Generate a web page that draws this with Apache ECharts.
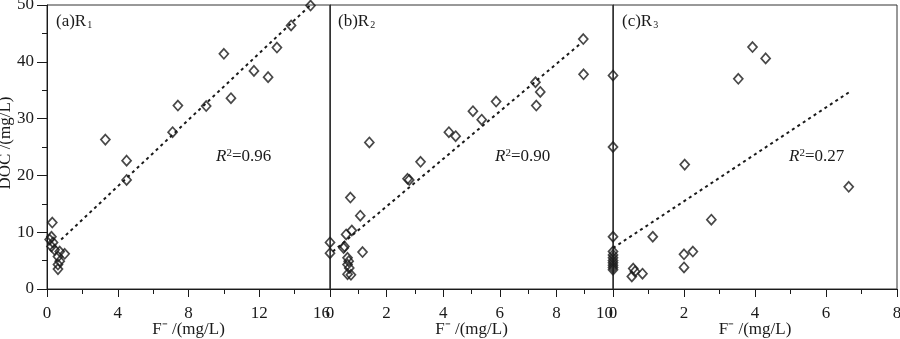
<!DOCTYPE html>
<html>
<head>
<meta charset="utf-8">
<script src="https://cdn.jsdelivr.net/npm/echarts@6/dist/echarts.min.js"></script>
<style>
  html, body { margin: 0; padding: 0; background: #fff; }
  #chart { width: 900px; height: 339px; }
</style>
</head>
<body>
<div id="chart"></div>
<script>
// DOC vs F- for the three groups R1, R2, R3
const r1X = [14.9, 13.8, 13.0, 11.7, 12.5, 10.0, 10.4, 9.0, 7.4, 7.1, 3.3, 4.5, 4.5, 0.3, 0.25, 0.15, 0.34, 0.25, 0.43, 0.72, 1.0, 0.62, 0.72, 0.62, 0.62];
const r1Y = [49.9, 46.4, 42.5, 38.4, 37.3, 41.4, 33.6, 32.2, 32.3, 27.6, 26.3, 22.6, 19.2, 11.7, 9.2, 8.7, 8.2, 7.5, 6.9, 6.6, 6.2, 5.7, 4.9, 4.3, 3.5];

const r2X = [8.95, 8.96, 7.26, 7.43, 7.29, 5.87, 5.05, 5.36, 4.2, 4.44, 1.39, 3.2, 2.74, 2.8, 0.72, 1.07, 0.77, 0.57, 0.0, 0.0, 0.51, 0.48, 1.15, 0.62, 0.66, 0.62, 0.68, 0.62, 0.74];
const r2Y = [44.0, 37.8, 36.4, 34.7, 32.3, 33.0, 31.3, 29.8, 27.6, 26.9, 25.8, 22.4, 19.4, 19.2, 16.1, 12.9, 10.3, 9.6, 8.2, 6.3, 7.5, 7.2, 6.5, 5.5, 4.9, 4.3, 3.7, 2.6, 2.5];

const r3X = [3.93, 4.3, 3.53, 0, 0, 2.02, 6.64, 2.77, 1.12, 0, 2.0, 2.25, 2.0, 0.57, 0.83, 0.53, 0.62, 0, 0, 0, 0, 0, 0, 0, 0];
const r3Y = [42.6, 40.6, 37.0, 37.6, 25.0, 21.9, 18.0, 12.2, 9.2, 9.2, 6.1, 6.6, 3.8, 3.6, 2.7, 2.2, 3.1, 6.6, 6.0, 5.5, 5.0, 4.6, 4.2, 3.8, 3.4];

// fitted line end points for each group
const fit1X = [0.8, 14.9], fit1Y = [8.7, 50.0];
const fit2X = [0.1, 8.9], fit2Y = [6.6, 43.4];
const fit3X = [0.0, 6.64], fit3Y = [7.2, 34.6];

const panelTitles = ['(a)R{sub|1}', '(b)R{sub|2}', '(c)R{sub|3}'];
const r2Labels = ['0.96', '0.90', '0.27'];
const xMax = [16, 10, 8];
const xStep = [4, 2, 2];

const FONT = '"Liberation Serif", "Times New Roman", serif';
const INK = '#1a1a1a';
const FRAME = '#333';
const FS = 17;

const grids = [
  { left: 47, top: 5, width: 283, height: 284 },
  { left: 330, top: 5, width: 283, height: 284 },
  { left: 613, top: 5, width: 284, height: 284 }
].map(g => Object.assign(g, {
  show: true, borderColor: FRAME, borderWidth: 1, backgroundColor: 'transparent',
  containLabel: false, outerBoundsMode: 'none'
}));

const xAxes = xMax.map((mx, i) => ({
  type: 'value', gridIndex: i, min: 0, max: mx, interval: xStep[i],
  name: 'F\u207B /(mg/L)', nameLocation: 'middle', nameGap: 32, nameMoveOverlap: false,
  nameTextStyle: { fontFamily: FONT, fontSize: FS, color: INK },
  axisLine: { show: true, lineStyle: { color: INK, width: 1 } },
  axisTick: { show: true, inside: false, length: 8, lineStyle: { color: INK } },
  minorTick: { show: true, splitNumber: 2, length: 5, lineStyle: { color: INK } },
  axisLabel: { fontFamily: FONT, fontSize: FS, color: INK, margin: 16, showMinLabel: true, showMaxLabel: true, alignMaxLabel: i < 2 ? 'right' : 'center' },
  splitLine: { show: false }
}));

const yAxes = [0, 1, 2].map(i => ({
  type: 'value', gridIndex: i, min: 0, max: 50, interval: 10,
  axisLine: { show: true, lineStyle: { color: i === 0 ? INK : FRAME, width: 1 } },
  axisTick: { show: i === 0, length: 10, lineStyle: { color: INK } },
  minorTick: { show: i === 0, splitNumber: 2, length: 5, lineStyle: { color: INK } },
  axisLabel: { show: i === 0, fontFamily: FONT, fontSize: FS, color: INK, margin: 13 },
  splitLine: { show: false }
}));

function pairs(xs, ys) { return xs.map((x, k) => [x, ys[k]]); }

const scatterData = [pairs(r1X, r1Y), pairs(r2X, r2Y), pairs(r3X, r3Y)];
const fitData = [pairs(fit1X, fit1Y), pairs(fit2X, fit2Y), pairs(fit3X, fit3Y)];

const series = [];
for (let i = 0; i < 3; i++) {
  series.push({
    type: 'line', xAxisIndex: i, yAxisIndex: i, data: fitData[i],
    showSymbol: false, symbol: 'none', z: 2, silent: true,
    lineStyle: { color: INK, width: 2, type: [3, 3.5] }
  });
  series.push({
    type: 'scatter', xAxisIndex: i, yAxisIndex: i, data: scatterData[i],
    symbol: 'diamond', symbolSize: [9, 10], clip: false, z: 3,
    itemStyle: { color: 'rgba(255,255,255,0)', borderColor: INK, borderWidth: 1.7 }
  });
}

const richBase = {
  sub: { fontFamily: FONT, fontSize: 10, color: INK, verticalAlign: 'bottom', padding: [7, 0, 0, 1] },
  i: { fontFamily: FONT, fontSize: FS, fontStyle: 'italic', color: INK },
  sup: { fontFamily: FONT, fontSize: 11, color: INK, verticalAlign: 'top', padding: [0, 0, 7, 0] },
  n: { fontFamily: FONT, fontSize: FS, color: INK }
};

const titleX = [56, 338, 622];
const r2X0 = [216, 495, 789];
const graphics = [];
for (let i = 0; i < 3; i++) {
  graphics.push({
    type: 'text', left: titleX[i], top: 13,
    style: { text: panelTitles[i], fontFamily: FONT, fontSize: FS, fill: INK, rich: richBase }
  });
  graphics.push({
    type: 'text', left: r2X0[i], top: 148,
    style: { text: '{i|R}{sup|2}{n|=' + r2Labels[i] + '}', fontFamily: FONT, fontSize: FS, fill: INK, rich: richBase }
  });
}
graphics.push({
  type: 'text', x: 6, y: 143, rotation: Math.PI / 2,
  style: { text: 'DOC /(mg/L)', fontFamily: FONT, fontSize: 17, fill: INK, align: 'center', verticalAlign: 'middle' }
});

const chart = echarts.init(document.getElementById('chart'), null, { renderer: 'canvas' });
chart.setOption({
  animation: false,
  backgroundColor: '#fff',
  grid: grids,
  xAxis: xAxes,
  yAxis: yAxes,
  series: series,
  graphic: graphics
});
</script>
</body>
</html>
